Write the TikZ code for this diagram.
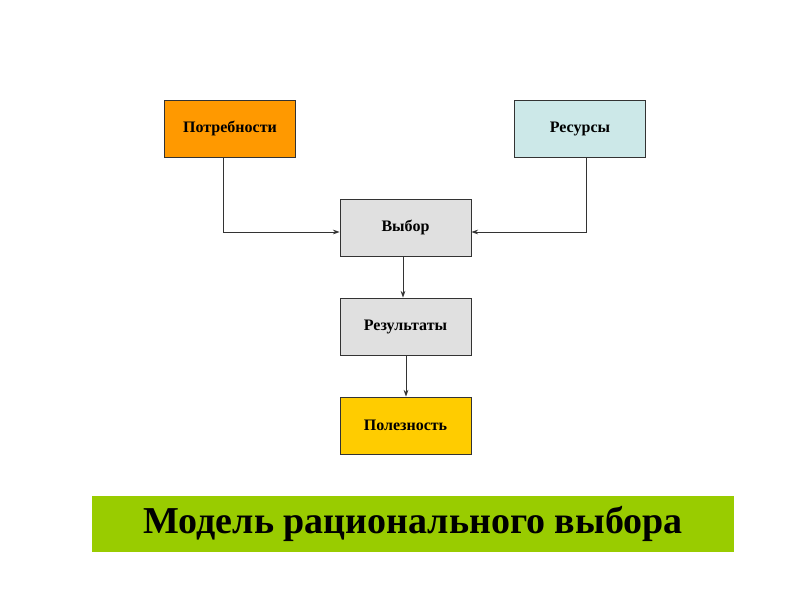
\documentclass[tikz,border=0pt]{standalone}
\usepackage{fontspec}
\setmainfont{Liberation Serif}
\usetikzlibrary{arrows.meta}
\definecolor{orng}{HTML}{FF9900}
\definecolor{lblue}{HTML}{CCE8E8}
\definecolor{lgray}{HTML}{E0E0E0}
\definecolor{yel}{HTML}{FFCC00}
\definecolor{grn}{HTML}{99CC00}
\begin{document}
\begin{tikzpicture}[x=0.75pt,y=-0.75pt,
  bx/.style={draw=black!80,line width=0.6pt,minimum width=98.25pt,minimum height=42.75pt,font=\bfseries\fontsize{12}{14}\selectfont,inner sep=0pt},
  ar/.style={draw=black!80,line width=0.6pt,-{Stealth[length=5pt,width=3.5pt]}}]
\useasboundingbox (0,0) rectangle (800,600);
\fill[white] (0,0) rectangle (800,600);
\node[bx,fill=orng] (p) at (230,128.5) {Потребности};
\node[bx,fill=lblue] (r) at (580,128.5) {Ресурсы};
\node[bx,fill=lgray] (v) at (405.5,227.5) {Выбор};
\node[bx,fill=lgray] (res) at (405.5,326.5) {Результаты};
\node[bx,fill=yel] (u) at (405.5,425.5) {Полезность};
\node[fill=grn,minimum width=481.5pt,minimum height=42pt,inner sep=0pt,font=\bfseries\fontsize{28.5}{32}\selectfont] (t) at (413,524) {Модель рационального выбора};
\draw[ar] (p.south -| 223,0) |- (v.west |- 0,232);
\draw[ar] (r.south -| 586,0) |- (v.east |- 0,232);
\draw[ar] (v.south -| 403,0) -- (res.north -| 403,0);
\draw[ar] (res.south -| 406,0) -- (u.north -| 406,0);
\end{tikzpicture}
\end{document}
